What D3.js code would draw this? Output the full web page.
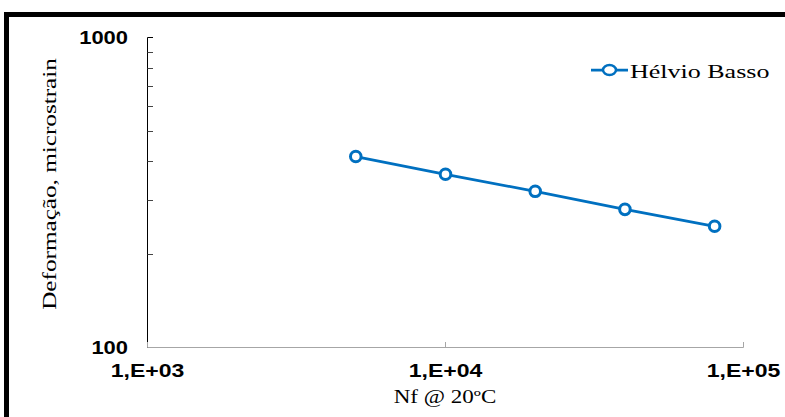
<!DOCTYPE html>
<html><head><meta charset="utf-8">
<script src="https://cdn.jsdelivr.net/npm/d3@7"></script>
<style>body{margin:0;background:#fff}svg{display:block}</style>
</head><body>
<svg id="c" width="785" height="417"></svg>
<script>
const seriesName = "Hélvio Basso";
const cycles = [5000, 10000, 20000, 40000, 80000];
const strain = [413, 362, 319, 279, 246];
const xTicks = [1e3, 1e4, 1e5];
const xTickLabels = ["1,E+03", "1,E+04", "1,E+05"];
const yMajor = [100, 1000];
const yMinor = [200, 300, 400, 500, 600, 700, 800, 900];
const xTitle = "Nf @ 20ºC";
const yTitle = "Deformação, microstrain";

const svg = d3.select("#c");
const blue = "#0070C0";
const sans = "Liberation Sans, Arial, sans-serif";
const serif = "Liberation Serif, Times New Roman, serif";
// outer frame
svg.append("rect").attr("x", 6.5).attr("y", 14.5).attr("width", 800).attr("height", 420)
  .attr("fill", "none").attr("stroke", "#000").attr("stroke-width", 5);

const x = d3.scaleLog().domain([1e3, 1e5]).range([147.5, 743.5]);
const y = d3.scaleLog().domain([100, 1000]).range([347.5, 37.5]);

// y axis
const g = svg.append("g");
g.append("line").attr("x1", 147.5).attr("x2", 147.5).attr("y1", y(1000)).attr("y2", y(100)).attr("stroke", "#000").attr("stroke-width", 1);
g.selectAll(".ymin").data(yMinor).join("line")
  .attr("x1", 147.5).attr("x2", 153).attr("y1", d => Math.round(y(d)) + 0.5).attr("y2", d => Math.round(y(d)) + 0.5)
  .attr("stroke", "#444").attr("stroke-width", 1);
g.selectAll(".ymaj").data(yMajor).join("line")
  .attr("x1", 147.5).attr("x2", 153).attr("y1", d => y(d)).attr("y2", d => y(d))
  .attr("stroke", "#000").attr("stroke-width", 1);
g.selectAll(".ylab").data(yMajor).join("text")
  .attr("transform", d => `translate(128,${y(d)}) scale(1.22,1)`)
  .attr("dy", "0.35em").attr("text-anchor", "end")
  .attr("font-family", sans).attr("font-weight", "bold").attr("font-size", 18)
  .text(d => d);

// x axis
g.append("line").attr("x1", 147.5).attr("x2", 743.5).attr("y1", 347.5).attr("y2", 347.5).attr("stroke", "#a6a6a6").attr("stroke-width", 1.2);
g.selectAll(".xt").data(xTicks).join("line")
  .attr("x1", d => x(d)).attr("x2", d => x(d)).attr("y1", 347.5).attr("y2", 342)
  .attr("stroke", "#a6a6a6").attr("stroke-width", 1);
g.selectAll(".xlab").data(xTicks).join("text")
  .attr("transform", d => `translate(${x(d)},370.5) scale(1.28,1)`)
  .attr("dy", "0.35em").attr("text-anchor", "middle")
  .attr("font-family", sans).attr("font-weight", "bold").attr("font-size", 18)
  .text((d, i) => xTickLabels[i]);

// titles
svg.append("text").attr("transform", "translate(445,397) scale(1.28,1)").attr("dy", "0.35em").attr("text-anchor", "middle")
  .attr("font-family", serif).attr("font-size", 18).text(xTitle);
svg.append("text").attr("transform", "translate(50,184) rotate(-90) scale(1.4,1)").attr("dy", "0.35em").attr("text-anchor", "middle")
  .attr("font-family", serif).attr("font-size", 18).text(yTitle);

// series
const data = cycles.map((c, i) => ({c, s: strain[i]}));
svg.append("path").datum(data)
  .attr("d", d3.line().x(d => x(d.c)).y(d => y(d.s)))
  .attr("fill", "none").attr("stroke", blue).attr("stroke-width", 2.75);
svg.selectAll(".pt").data(data).join("circle")
  .attr("cx", d => x(d.c)).attr("cy", d => y(d.s)).attr("r", 5.3)
  .attr("fill", "#fff").attr("stroke", blue).attr("stroke-width", 3);

// legend
const lg = svg.append("g");
lg.append("line").attr("x1", 591).attr("x2", 628).attr("y1", 70).attr("y2", 70).attr("stroke", blue).attr("stroke-width", 2.75);
lg.append("ellipse").attr("cx", 609.5).attr("cy", 70).attr("rx", 6.5).attr("ry", 5).attr("fill", "#fff").attr("stroke", blue).attr("stroke-width", 2.5);
lg.append("text").attr("transform", "translate(630,71) scale(1.37,1)").attr("dy", "0.35em")
  .attr("font-family", serif).attr("font-size", 19).text(seriesName);
</script>
</body></html>
